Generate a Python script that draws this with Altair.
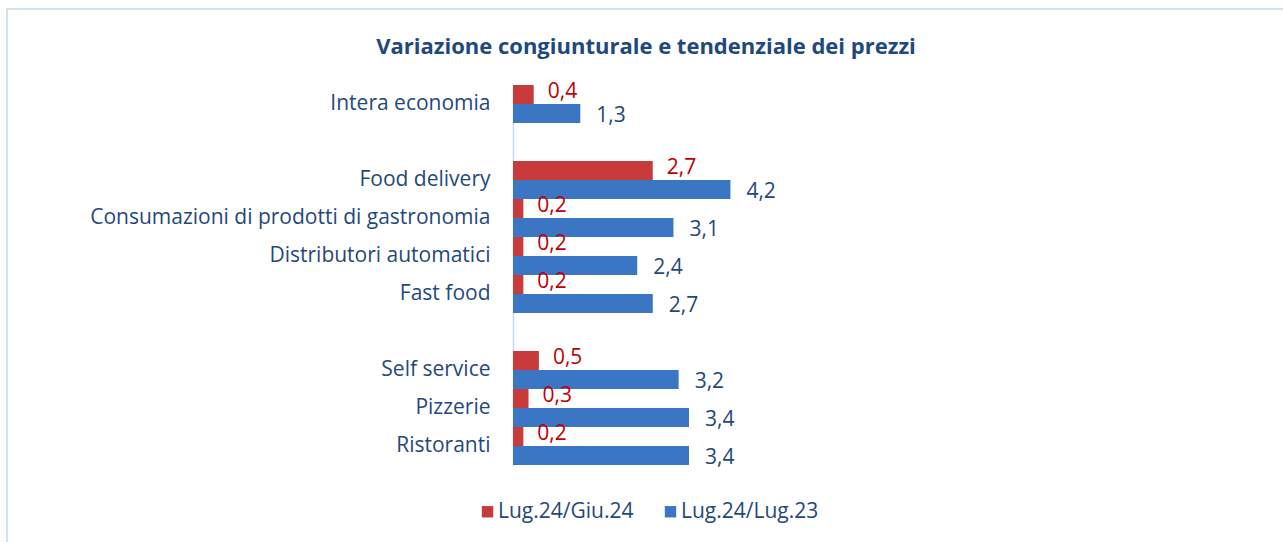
import altair as alt
import pandas as pd

title_text = "Variazione congiunturale e tendenziale dei prezzi"
categories = ["Intera economia", " ", "Food delivery",
              "Consumazioni di prodotti di gastronomia", "Distributori automatici",
              "Fast food", "  ", "Self service", "Pizzerie", "Ristoranti"]
data_cats = ["Intera economia", "Food delivery",
             "Consumazioni di prodotti di gastronomia", "Distributori automatici",
             "Fast food", "Self service", "Pizzerie", "Ristoranti"]
series = ["Lug.24/Giu.24", "Lug.24/Lug.23"]
congiunturale = [0.4, 2.7, 0.2, 0.2, 0.2, 0.5, 0.3, 0.2]
tendenziale = [1.3, 4.2, 3.1, 2.4, 2.7, 3.2, 3.4, 3.4]

rows = []
for c, v in zip(data_cats, congiunturale):
    rows.append({"cat": c, "serie": series[0], "val": v, "lab": f"{v:.1f}".replace(".", ",")})
for c, v in zip(data_cats, tendenziale):
    rows.append({"cat": c, "serie": series[1], "val": v, "lab": f"{v:.1f}".replace(".", ",")})
df = pd.DataFrame(rows)

RED = "#C83B3B"
BLUE = "#3A76C4"
DARK = "#1F497D"
FONT = "Open Sans"

y_enc = alt.Y("cat:N", sort=categories,
              scale=alt.Scale(domain=categories, paddingInner=0, paddingOuter=0),
              axis=alt.Axis(title=None, ticks=False, labelPadding=23, labelFontSize=21,
                            labelColor=DARK, labelFont=FONT, domainColor="#C9D8EC",
                            domainWidth=1.5, labelLimit=500))
x_enc = alt.X("val:Q", scale=alt.Scale(domain=[0, 5.1], nice=False), axis=None)
yoff = alt.YOffset("serie:N", sort=series, scale=alt.Scale(domain=series, paddingInner=0, paddingOuter=0))

bars = alt.Chart(df).mark_bar(size=19).encode(
    y=y_enc, x=x_enc, yOffset=yoff,
    color=alt.Color("serie:N", scale=alt.Scale(domain=series, range=[RED, BLUE]),
                    legend=alt.Legend(title=None, orient="none", legendX=-36, legendY=416,
                                      direction="horizontal", symbolType="square",
                                      symbolSize=130, symbolStrokeWidth=0,
                                      labelFontSize=21, labelColor=DARK, labelFont=FONT,
                                      columnPadding=26, labelOffset=0)))

txt_red = alt.Chart(df).transform_filter(alt.datum.serie == series[0]).mark_text(
    align="left", baseline="middle", dx=14, dy=-3, fontSize=21, font=FONT, color="#C00000"
).encode(y=y_enc, x=x_enc, yOffset=yoff, text="lab:N")

txt_blue = alt.Chart(df).transform_filter(alt.datum.serie == series[1]).mark_text(
    align="left", baseline="middle", dx=16, dy=2, fontSize=21, font=FONT, color=DARK
).encode(y=y_enc, x=x_enc, yOffset=yoff, text="lab:N")

frame = alt.Chart(pd.DataFrame({"a": [0]})).mark_rect(
    fillOpacity=0, stroke="#D5E1F1", strokeWidth=2
).encode(x=alt.value(-506), x2=alt.value(800), y=alt.value(-76), y2=alt.value(520))

title = alt.Chart(pd.DataFrame({"t": [title_text]})).mark_text(
    fontSize=22, font=FONT, fontWeight="bold", color=DARK, align="center", baseline="middle"
).encode(text="t:N", x=alt.value(133), y=alt.value(-38))

chart = alt.layer(frame, bars, txt_red, txt_blue, title).properties(
    width=264, height=380,
    autosize=alt.AutoSizeParams(type="none"),
    padding={"left": 513, "top": 85, "right": 506, "bottom": 77},
).configure(background="white", view=alt.ViewConfig(stroke=None))

chart.save("out.html", embed_options={"renderer": "svg", "actions": False})
